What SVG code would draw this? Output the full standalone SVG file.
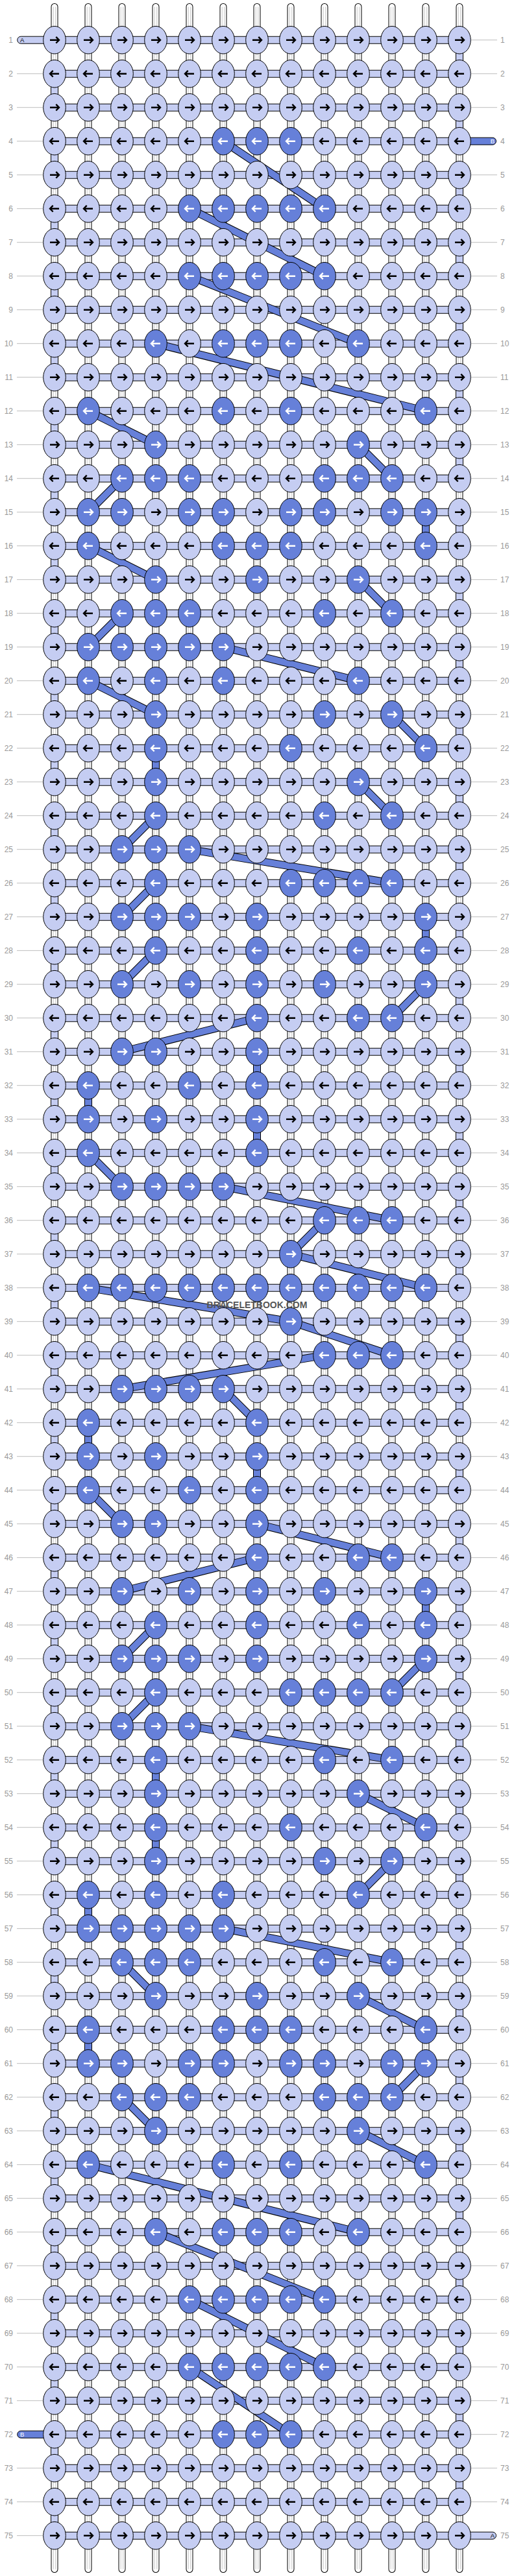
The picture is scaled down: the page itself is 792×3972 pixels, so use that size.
<svg xmlns="http://www.w3.org/2000/svg" width="792" height="3972" viewBox="0 0 792 3972">
<style>
.nl{fill:#c5cdf2;stroke:#000;stroke-width:1}
.nd{fill:#6680d9;stroke:#000;stroke-width:1}
.ab{fill:none;stroke:#000;stroke-width:2.4}
.aw{fill:none;stroke:#fff;stroke-width:2.4}
.vo{fill:none;stroke:#000;stroke-width:11;stroke-linecap:round}
.vi{fill:none;stroke:#fff;stroke-width:9;stroke-linecap:round}
.vg{fill:none;stroke:#c4c4c4;stroke-width:1}
.ho{fill:none;stroke:#000;stroke-width:12}
.hi{fill:none;stroke:#c5cdf2;stroke-width:10}
.to{fill:none;stroke:#000;stroke-width:12;stroke-dasharray:52 52}
.ti{fill:none;stroke:#c5cdf2;stroke-width:10;stroke-dasharray:52 52}
.bo{fill:none;stroke:#000;stroke-width:12}
.bi{fill:none;stroke:#6680d9;stroke-width:10}
.gl{fill:none;stroke:#bdbdbd;stroke-width:1}
.tbl{fill:#c5cdf2;stroke:#000;stroke-width:1}
.tbd{fill:#6680d9;stroke:#000;stroke-width:1}
.tt{font-family:"Liberation Sans",Arial,sans-serif;font-size:9.5px}
.ll{font-family:"Liberation Sans",Arial,sans-serif;font-size:12px;fill:#999;text-anchor:end}
.lr{font-family:"Liberation Sans",Arial,sans-serif;font-size:12px;fill:#999}
.wm{font-family:"Liberation Sans",Arial,sans-serif;font-size:14px;font-weight:bold;fill:#555;text-anchor:middle}
</style>
<defs>
<path id="vs" d="M84 10.5V3961.5M136 10.5V3961.5M188 10.5V3961.5M240 10.5V3961.5M292 10.5V3961.5M344 10.5V3961.5M396 10.5V3961.5M448 10.5V3961.5M500 10.5V3961.5M552 10.5V3961.5M604 10.5V3961.5M656 10.5V3961.5M708 10.5V3961.5"/>
<path id="hs" d="M84 61.7h624M84 113.7h624M84 165.7h624M84 217.7h624M84 269.7h624M84 321.7h624M84 373.7h624M84 425.7h624M84 477.7h624M84 529.7h624M84 581.7h624M84 633.7h624M84 685.7h624M84 737.7h624M84 789.7h624M84 841.7h624M84 893.7h624M84 945.7h624M84 997.7h624M84 1049.7h624M84 1101.7h624M84 1153.7h624M84 1205.7h624M84 1257.7h624M84 1309.7h624M84 1361.7h624M84 1413.7h624M84 1465.7h624M84 1517.7h624M84 1569.7h624M84 1621.7h624M84 1673.7h624M84 1725.7h624M84 1777.7h624M84 1829.7h624M84 1881.7h624M84 1933.7h624M84 1985.7h624M84 2037.7h624M84 2089.7h624M84 2141.7h624M84 2193.7h624M84 2245.7h624M84 2297.7h624M84 2349.7h624M84 2401.7h624M84 2453.7h624M84 2505.7h624M84 2557.7h624M84 2609.7h624M84 2661.7h624M84 2713.7h624M84 2765.7h624M84 2817.7h624M84 2869.7h624M84 2921.7h624M84 2973.7h624M84 3025.7h624M84 3077.7h624M84 3129.7h624M84 3181.7h624M84 3233.7h624M84 3285.7h624M84 3337.7h624M84 3389.7h624M84 3441.7h624M84 3493.7h624M84 3545.7h624M84 3597.7h624M84 3649.7h624M84 3701.7h624M84 3753.7h624M84 3805.7h624M84 3857.7h624M84 3909.7h624"/>
<path id="bd" d="M344 217.7L500 321.7M292 321.7L500 425.7M292 425.7L552 529.7M240 529.7L656 633.7M136 633.7L240 685.7M552 685.7L604 737.7M188 737.7L136 789.7M656 789.7L656 841.7M136 841.7L240 893.7M552 893.7L604 945.7M188 945.7L136 997.7M344 997.7L552 1049.7M136 1049.7L240 1101.7M604 1101.7L656 1153.7M240 1153.7L240 1205.7M552 1205.7L604 1257.7M240 1257.7L188 1309.7M292 1309.7L604 1361.7M240 1361.7L188 1413.7M656 1413.7L656 1465.7M240 1465.7L188 1517.7M656 1517.7L604 1569.7M396 1569.7L188 1621.7M396 1621.7L396 1673.7M136 1673.7L136 1725.7M396 1725.7L396 1777.7M136 1777.7L188 1829.7M344 1829.7L604 1881.7M500 1881.7L448 1933.7M448 1933.7L656 1985.7M136 1985.7L448 2037.7M448 2037.7L604 2089.7M500 2089.7L188 2141.7M344 2141.7L396 2193.7M136 2193.7L136 2245.7M396 2245.7L396 2297.7M136 2297.7L188 2349.7M396 2349.7L604 2401.7M396 2401.7L188 2453.7M656 2453.7L656 2505.7M240 2505.7L188 2557.7M656 2557.7L604 2609.7M240 2609.7L188 2661.7M292 2661.7L604 2713.7M240 2713.7L240 2765.7M552 2765.7L656 2817.7M240 2817.7L240 2869.7M604 2869.7L552 2921.7M136 2921.7L136 2973.7M344 2973.7L604 3025.7M188 3025.7L240 3077.7M552 3077.7L656 3129.7M136 3129.7L136 3181.7M656 3181.7L604 3233.7M188 3233.7L240 3285.7M552 3285.7L656 3337.7M136 3337.7L552 3441.7M240 3441.7L500 3545.7M292 3545.7L500 3649.7M292 3649.7L448 3753.7"/>
<g id="a"><ellipse rx="17.3" ry="21.3" class="nl"/><path d="M-7 0H6M2.3-4.8 7 0 2.3 4.8" class="ab"/></g>
<g id="b"><ellipse rx="17.3" ry="21.3" class="nl"/><path d="M7 0H-6M-2.3-4.8-7 0-2.3 4.8" class="ab"/></g>
<g id="c"><ellipse rx="17.3" ry="21.3" class="nd"/><path d="M-7 0H6M2.3-4.8 7 0 2.3 4.8" class="aw"/></g>
<g id="d"><ellipse rx="17.3" ry="21.3" class="nd"/><path d="M7 0H-6M-2.3-4.8-7 0-2.3 4.8" class="aw"/></g>
</defs>
<rect width="792" height="3972" fill="#fff"/>
<g id="guides">
<path class="gl" d="M26 113.7h40M26 165.7h40M26 217.7h40M26 269.7h40M26 321.7h40M26 373.7h40M26 425.7h40M26 477.7h40M26 529.7h40M26 581.7h40M26 633.7h40M26 685.7h40M26 737.7h40M26 789.7h40M26 841.7h40M26 893.7h40M26 945.7h40M26 997.7h40M26 1049.7h40M26 1101.7h40M26 1153.7h40M26 1205.7h40M26 1257.7h40M26 1309.7h40M26 1361.7h40M26 1413.7h40M26 1465.7h40M26 1517.7h40M26 1569.7h40M26 1621.7h40M26 1673.7h40M26 1725.7h40M26 1777.7h40M26 1829.7h40M26 1881.7h40M26 1933.7h40M26 1985.7h40M26 2037.7h40M26 2089.7h40M26 2141.7h40M26 2193.7h40M26 2245.7h40M26 2297.7h40M26 2349.7h40M26 2401.7h40M26 2453.7h40M26 2505.7h40M26 2557.7h40M26 2609.7h40M26 2661.7h40M26 2713.7h40M26 2765.7h40M26 2817.7h40M26 2869.7h40M26 2921.7h40M26 2973.7h40M26 3025.7h40M26 3077.7h40M26 3129.7h40M26 3181.7h40M26 3233.7h40M26 3285.7h40M26 3337.7h40M26 3389.7h40M26 3441.7h40M26 3493.7h40M26 3545.7h40M26 3597.7h40M26 3649.7h40M26 3701.7h40M26 3805.7h40M26 3857.7h40M26 3909.7h40"/>
<path class="gl" d="M726 61.7h40M726 113.7h40M726 165.7h40M726 269.7h40M726 321.7h40M726 373.7h40M726 425.7h40M726 477.7h40M726 529.7h40M726 581.7h40M726 633.7h40M726 685.7h40M726 737.7h40M726 789.7h40M726 841.7h40M726 893.7h40M726 945.7h40M726 997.7h40M726 1049.7h40M726 1101.7h40M726 1153.7h40M726 1205.7h40M726 1257.7h40M726 1309.7h40M726 1361.7h40M726 1413.7h40M726 1465.7h40M726 1517.7h40M726 1569.7h40M726 1621.7h40M726 1673.7h40M726 1725.7h40M726 1777.7h40M726 1829.7h40M726 1881.7h40M726 1933.7h40M726 1985.7h40M726 2037.7h40M726 2089.7h40M726 2141.7h40M726 2193.7h40M726 2245.7h40M726 2297.7h40M726 2349.7h40M726 2401.7h40M726 2453.7h40M726 2505.7h40M726 2557.7h40M726 2609.7h40M726 2661.7h40M726 2713.7h40M726 2765.7h40M726 2817.7h40M726 2869.7h40M726 2921.7h40M726 2973.7h40M726 3025.7h40M726 3077.7h40M726 3129.7h40M726 3181.7h40M726 3233.7h40M726 3285.7h40M726 3337.7h40M726 3389.7h40M726 3441.7h40M726 3493.7h40M726 3545.7h40M726 3597.7h40M726 3649.7h40M726 3701.7h40M726 3753.7h40M726 3805.7h40M726 3857.7h40"/>
</g>
<g id="labels">
<text class="ll" x="20" y="66">1</text><text class="lr" x="771" y="66">1</text>
<text class="ll" x="20" y="118">2</text><text class="lr" x="771" y="118">2</text>
<text class="ll" x="20" y="170">3</text><text class="lr" x="771" y="170">3</text>
<text class="ll" x="20" y="222">4</text><text class="lr" x="771" y="222">4</text>
<text class="ll" x="20" y="274">5</text><text class="lr" x="771" y="274">5</text>
<text class="ll" x="20" y="326">6</text><text class="lr" x="771" y="326">6</text>
<text class="ll" x="20" y="378">7</text><text class="lr" x="771" y="378">7</text>
<text class="ll" x="20" y="430">8</text><text class="lr" x="771" y="430">8</text>
<text class="ll" x="20" y="482">9</text><text class="lr" x="771" y="482">9</text>
<text class="ll" x="20" y="534">10</text><text class="lr" x="771" y="534">10</text>
<text class="ll" x="20" y="586">11</text><text class="lr" x="771" y="586">11</text>
<text class="ll" x="20" y="638">12</text><text class="lr" x="771" y="638">12</text>
<text class="ll" x="20" y="690">13</text><text class="lr" x="771" y="690">13</text>
<text class="ll" x="20" y="742">14</text><text class="lr" x="771" y="742">14</text>
<text class="ll" x="20" y="794">15</text><text class="lr" x="771" y="794">15</text>
<text class="ll" x="20" y="846">16</text><text class="lr" x="771" y="846">16</text>
<text class="ll" x="20" y="898">17</text><text class="lr" x="771" y="898">17</text>
<text class="ll" x="20" y="950">18</text><text class="lr" x="771" y="950">18</text>
<text class="ll" x="20" y="1002">19</text><text class="lr" x="771" y="1002">19</text>
<text class="ll" x="20" y="1054">20</text><text class="lr" x="771" y="1054">20</text>
<text class="ll" x="20" y="1106">21</text><text class="lr" x="771" y="1106">21</text>
<text class="ll" x="20" y="1158">22</text><text class="lr" x="771" y="1158">22</text>
<text class="ll" x="20" y="1210">23</text><text class="lr" x="771" y="1210">23</text>
<text class="ll" x="20" y="1262">24</text><text class="lr" x="771" y="1262">24</text>
<text class="ll" x="20" y="1314">25</text><text class="lr" x="771" y="1314">25</text>
<text class="ll" x="20" y="1366">26</text><text class="lr" x="771" y="1366">26</text>
<text class="ll" x="20" y="1418">27</text><text class="lr" x="771" y="1418">27</text>
<text class="ll" x="20" y="1470">28</text><text class="lr" x="771" y="1470">28</text>
<text class="ll" x="20" y="1522">29</text><text class="lr" x="771" y="1522">29</text>
<text class="ll" x="20" y="1574">30</text><text class="lr" x="771" y="1574">30</text>
<text class="ll" x="20" y="1626">31</text><text class="lr" x="771" y="1626">31</text>
<text class="ll" x="20" y="1678">32</text><text class="lr" x="771" y="1678">32</text>
<text class="ll" x="20" y="1730">33</text><text class="lr" x="771" y="1730">33</text>
<text class="ll" x="20" y="1782">34</text><text class="lr" x="771" y="1782">34</text>
<text class="ll" x="20" y="1834">35</text><text class="lr" x="771" y="1834">35</text>
<text class="ll" x="20" y="1886">36</text><text class="lr" x="771" y="1886">36</text>
<text class="ll" x="20" y="1938">37</text><text class="lr" x="771" y="1938">37</text>
<text class="ll" x="20" y="1990">38</text><text class="lr" x="771" y="1990">38</text>
<text class="ll" x="20" y="2042">39</text><text class="lr" x="771" y="2042">39</text>
<text class="ll" x="20" y="2094">40</text><text class="lr" x="771" y="2094">40</text>
<text class="ll" x="20" y="2146">41</text><text class="lr" x="771" y="2146">41</text>
<text class="ll" x="20" y="2198">42</text><text class="lr" x="771" y="2198">42</text>
<text class="ll" x="20" y="2250">43</text><text class="lr" x="771" y="2250">43</text>
<text class="ll" x="20" y="2302">44</text><text class="lr" x="771" y="2302">44</text>
<text class="ll" x="20" y="2354">45</text><text class="lr" x="771" y="2354">45</text>
<text class="ll" x="20" y="2406">46</text><text class="lr" x="771" y="2406">46</text>
<text class="ll" x="20" y="2458">47</text><text class="lr" x="771" y="2458">47</text>
<text class="ll" x="20" y="2510">48</text><text class="lr" x="771" y="2510">48</text>
<text class="ll" x="20" y="2562">49</text><text class="lr" x="771" y="2562">49</text>
<text class="ll" x="20" y="2614">50</text><text class="lr" x="771" y="2614">50</text>
<text class="ll" x="20" y="2666">51</text><text class="lr" x="771" y="2666">51</text>
<text class="ll" x="20" y="2718">52</text><text class="lr" x="771" y="2718">52</text>
<text class="ll" x="20" y="2770">53</text><text class="lr" x="771" y="2770">53</text>
<text class="ll" x="20" y="2822">54</text><text class="lr" x="771" y="2822">54</text>
<text class="ll" x="20" y="2874">55</text><text class="lr" x="771" y="2874">55</text>
<text class="ll" x="20" y="2926">56</text><text class="lr" x="771" y="2926">56</text>
<text class="ll" x="20" y="2978">57</text><text class="lr" x="771" y="2978">57</text>
<text class="ll" x="20" y="3030">58</text><text class="lr" x="771" y="3030">58</text>
<text class="ll" x="20" y="3082">59</text><text class="lr" x="771" y="3082">59</text>
<text class="ll" x="20" y="3134">60</text><text class="lr" x="771" y="3134">60</text>
<text class="ll" x="20" y="3186">61</text><text class="lr" x="771" y="3186">61</text>
<text class="ll" x="20" y="3238">62</text><text class="lr" x="771" y="3238">62</text>
<text class="ll" x="20" y="3290">63</text><text class="lr" x="771" y="3290">63</text>
<text class="ll" x="20" y="3342">64</text><text class="lr" x="771" y="3342">64</text>
<text class="ll" x="20" y="3394">65</text><text class="lr" x="771" y="3394">65</text>
<text class="ll" x="20" y="3446">66</text><text class="lr" x="771" y="3446">66</text>
<text class="ll" x="20" y="3498">67</text><text class="lr" x="771" y="3498">67</text>
<text class="ll" x="20" y="3550">68</text><text class="lr" x="771" y="3550">68</text>
<text class="ll" x="20" y="3602">69</text><text class="lr" x="771" y="3602">69</text>
<text class="ll" x="20" y="3654">70</text><text class="lr" x="771" y="3654">70</text>
<text class="ll" x="20" y="3706">71</text><text class="lr" x="771" y="3706">71</text>
<text class="ll" x="20" y="3758">72</text><text class="lr" x="771" y="3758">72</text>
<text class="ll" x="20" y="3810">73</text><text class="lr" x="771" y="3810">73</text>
<text class="ll" x="20" y="3862">74</text><text class="lr" x="771" y="3862">74</text>
<text class="ll" x="20" y="3914">75</text><text class="lr" x="771" y="3914">75</text>
</g>
<g id="connectors">
<use href="#vs" class="vo"/>
<use href="#vs" class="vi"/>
<use href="#vs" class="vg" transform="translate(-1.8,0)"/>
<use href="#vs" class="vg" transform="translate(1.8,0)"/>
<use href="#hs" class="ho"/>
<use href="#hs" class="hi"/>
<line class="to" x1="708" y1="61.7" x2="708" y2="3857.7"/>
<line class="ti" x1="708" y1="61.7" x2="708" y2="3857.7"/>
<line class="to" x1="84" y1="113.7" x2="84" y2="3909.7"/>
<line class="ti" x1="84" y1="113.7" x2="84" y2="3909.7"/>
<use href="#bd" class="bo"/>
<use href="#bd" class="bi"/>
<g id="tabA-start"><path class="tbl" d="M72 56.2H32.2a5.5 5.5 0 0 0 0 11H72z"/><text class="tt" x="31" y="65.3" fill="#000">A</text></g>
<g id="tabB-start"><path class="tbd" d="M704 212.2H759a5.5 5.5 0 0 1 0 11H704z"/><text class="tt" x="762" y="221.3" fill="#fff" text-anchor="end">B</text></g>
<g id="tabB-end"><path class="tbd" d="M72 3748.2H32.2a5.5 5.5 0 0 0 0 11H72z"/><text class="tt" x="31" y="3757.3" fill="#fff">B</text></g>
<g id="tabA-end"><path class="tbl" d="M704 3904.2H759a5.5 5.5 0 0 1 0 11H704z"/><text class="tt" x="762" y="3913.3" fill="#000" text-anchor="end">A</text></g>
</g>
<g id="nodes">
<g id="row1" transform="translate(0,61.7)"><use id="n1_1" href="#a" x="84"/><use id="n1_2" href="#a" x="136"/><use id="n1_3" href="#a" x="188"/><use id="n1_4" href="#a" x="240"/><use id="n1_5" href="#a" x="292"/><use id="n1_6" href="#a" x="344"/><use id="n1_7" href="#a" x="396"/><use id="n1_8" href="#a" x="448"/><use id="n1_9" href="#a" x="500"/><use id="n1_10" href="#a" x="552"/><use id="n1_11" href="#a" x="604"/><use id="n1_12" href="#a" x="656"/><use id="n1_13" href="#a" x="708"/></g>
<g id="row2" transform="translate(0,113.7)"><use id="n2_1" href="#b" x="84"/><use id="n2_2" href="#b" x="136"/><use id="n2_3" href="#b" x="188"/><use id="n2_4" href="#b" x="240"/><use id="n2_5" href="#b" x="292"/><use id="n2_6" href="#b" x="344"/><use id="n2_7" href="#b" x="396"/><use id="n2_8" href="#b" x="448"/><use id="n2_9" href="#b" x="500"/><use id="n2_10" href="#b" x="552"/><use id="n2_11" href="#b" x="604"/><use id="n2_12" href="#b" x="656"/><use id="n2_13" href="#b" x="708"/></g>
<g id="row3" transform="translate(0,165.7)"><use id="n3_1" href="#a" x="84"/><use id="n3_2" href="#a" x="136"/><use id="n3_3" href="#a" x="188"/><use id="n3_4" href="#a" x="240"/><use id="n3_5" href="#a" x="292"/><use id="n3_6" href="#a" x="344"/><use id="n3_7" href="#a" x="396"/><use id="n3_8" href="#a" x="448"/><use id="n3_9" href="#a" x="500"/><use id="n3_10" href="#a" x="552"/><use id="n3_11" href="#a" x="604"/><use id="n3_12" href="#a" x="656"/><use id="n3_13" href="#a" x="708"/></g>
<g id="row4" transform="translate(0,217.7)"><use id="n4_1" href="#b" x="84"/><use id="n4_2" href="#b" x="136"/><use id="n4_3" href="#b" x="188"/><use id="n4_4" href="#b" x="240"/><use id="n4_5" href="#b" x="292"/><use id="n4_6" href="#d" x="344"/><use id="n4_7" href="#d" x="396"/><use id="n4_8" href="#d" x="448"/><use id="n4_9" href="#b" x="500"/><use id="n4_10" href="#b" x="552"/><use id="n4_11" href="#b" x="604"/><use id="n4_12" href="#b" x="656"/><use id="n4_13" href="#b" x="708"/></g>
<g id="row5" transform="translate(0,269.7)"><use id="n5_1" href="#a" x="84"/><use id="n5_2" href="#a" x="136"/><use id="n5_3" href="#a" x="188"/><use id="n5_4" href="#a" x="240"/><use id="n5_5" href="#a" x="292"/><use id="n5_6" href="#a" x="344"/><use id="n5_7" href="#a" x="396"/><use id="n5_8" href="#a" x="448"/><use id="n5_9" href="#a" x="500"/><use id="n5_10" href="#a" x="552"/><use id="n5_11" href="#a" x="604"/><use id="n5_12" href="#a" x="656"/><use id="n5_13" href="#a" x="708"/></g>
<g id="row6" transform="translate(0,321.7)"><use id="n6_1" href="#b" x="84"/><use id="n6_2" href="#b" x="136"/><use id="n6_3" href="#b" x="188"/><use id="n6_4" href="#b" x="240"/><use id="n6_5" href="#d" x="292"/><use id="n6_6" href="#d" x="344"/><use id="n6_7" href="#d" x="396"/><use id="n6_8" href="#d" x="448"/><use id="n6_9" href="#d" x="500"/><use id="n6_10" href="#b" x="552"/><use id="n6_11" href="#b" x="604"/><use id="n6_12" href="#b" x="656"/><use id="n6_13" href="#b" x="708"/></g>
<g id="row7" transform="translate(0,373.7)"><use id="n7_1" href="#a" x="84"/><use id="n7_2" href="#a" x="136"/><use id="n7_3" href="#a" x="188"/><use id="n7_4" href="#a" x="240"/><use id="n7_5" href="#a" x="292"/><use id="n7_6" href="#a" x="344"/><use id="n7_7" href="#a" x="396"/><use id="n7_8" href="#a" x="448"/><use id="n7_9" href="#a" x="500"/><use id="n7_10" href="#a" x="552"/><use id="n7_11" href="#a" x="604"/><use id="n7_12" href="#a" x="656"/><use id="n7_13" href="#a" x="708"/></g>
<g id="row8" transform="translate(0,425.7)"><use id="n8_1" href="#b" x="84"/><use id="n8_2" href="#b" x="136"/><use id="n8_3" href="#b" x="188"/><use id="n8_4" href="#b" x="240"/><use id="n8_5" href="#d" x="292"/><use id="n8_6" href="#d" x="344"/><use id="n8_7" href="#d" x="396"/><use id="n8_8" href="#d" x="448"/><use id="n8_9" href="#d" x="500"/><use id="n8_10" href="#b" x="552"/><use id="n8_11" href="#b" x="604"/><use id="n8_12" href="#b" x="656"/><use id="n8_13" href="#b" x="708"/></g>
<g id="row9" transform="translate(0,477.7)"><use id="n9_1" href="#a" x="84"/><use id="n9_2" href="#a" x="136"/><use id="n9_3" href="#a" x="188"/><use id="n9_4" href="#a" x="240"/><use id="n9_5" href="#a" x="292"/><use id="n9_6" href="#a" x="344"/><use id="n9_7" href="#a" x="396"/><use id="n9_8" href="#a" x="448"/><use id="n9_9" href="#a" x="500"/><use id="n9_10" href="#a" x="552"/><use id="n9_11" href="#a" x="604"/><use id="n9_12" href="#a" x="656"/><use id="n9_13" href="#a" x="708"/></g>
<g id="row10" transform="translate(0,529.7)"><use id="n10_1" href="#b" x="84"/><use id="n10_2" href="#b" x="136"/><use id="n10_3" href="#b" x="188"/><use id="n10_4" href="#d" x="240"/><use id="n10_5" href="#b" x="292"/><use id="n10_6" href="#d" x="344"/><use id="n10_7" href="#d" x="396"/><use id="n10_8" href="#d" x="448"/><use id="n10_9" href="#b" x="500"/><use id="n10_10" href="#d" x="552"/><use id="n10_11" href="#b" x="604"/><use id="n10_12" href="#b" x="656"/><use id="n10_13" href="#b" x="708"/></g>
<g id="row11" transform="translate(0,581.7)"><use id="n11_1" href="#a" x="84"/><use id="n11_2" href="#a" x="136"/><use id="n11_3" href="#a" x="188"/><use id="n11_4" href="#a" x="240"/><use id="n11_5" href="#a" x="292"/><use id="n11_6" href="#a" x="344"/><use id="n11_7" href="#a" x="396"/><use id="n11_8" href="#a" x="448"/><use id="n11_9" href="#a" x="500"/><use id="n11_10" href="#a" x="552"/><use id="n11_11" href="#a" x="604"/><use id="n11_12" href="#a" x="656"/><use id="n11_13" href="#a" x="708"/></g>
<g id="row12" transform="translate(0,633.7)"><use id="n12_1" href="#b" x="84"/><use id="n12_2" href="#d" x="136"/><use id="n12_3" href="#b" x="188"/><use id="n12_4" href="#b" x="240"/><use id="n12_5" href="#b" x="292"/><use id="n12_6" href="#d" x="344"/><use id="n12_7" href="#b" x="396"/><use id="n12_8" href="#d" x="448"/><use id="n12_9" href="#b" x="500"/><use id="n12_10" href="#b" x="552"/><use id="n12_11" href="#b" x="604"/><use id="n12_12" href="#d" x="656"/><use id="n12_13" href="#b" x="708"/></g>
<g id="row13" transform="translate(0,685.7)"><use id="n13_1" href="#a" x="84"/><use id="n13_2" href="#a" x="136"/><use id="n13_3" href="#a" x="188"/><use id="n13_4" href="#c" x="240"/><use id="n13_5" href="#a" x="292"/><use id="n13_6" href="#a" x="344"/><use id="n13_7" href="#a" x="396"/><use id="n13_8" href="#a" x="448"/><use id="n13_9" href="#a" x="500"/><use id="n13_10" href="#c" x="552"/><use id="n13_11" href="#a" x="604"/><use id="n13_12" href="#a" x="656"/><use id="n13_13" href="#a" x="708"/></g>
<g id="row14" transform="translate(0,737.7)"><use id="n14_1" href="#b" x="84"/><use id="n14_2" href="#b" x="136"/><use id="n14_3" href="#d" x="188"/><use id="n14_4" href="#d" x="240"/><use id="n14_5" href="#d" x="292"/><use id="n14_6" href="#b" x="344"/><use id="n14_7" href="#b" x="396"/><use id="n14_8" href="#b" x="448"/><use id="n14_9" href="#d" x="500"/><use id="n14_10" href="#d" x="552"/><use id="n14_11" href="#d" x="604"/><use id="n14_12" href="#b" x="656"/><use id="n14_13" href="#b" x="708"/></g>
<g id="row15" transform="translate(0,789.7)"><use id="n15_1" href="#a" x="84"/><use id="n15_2" href="#c" x="136"/><use id="n15_3" href="#c" x="188"/><use id="n15_4" href="#a" x="240"/><use id="n15_5" href="#c" x="292"/><use id="n15_6" href="#c" x="344"/><use id="n15_7" href="#a" x="396"/><use id="n15_8" href="#c" x="448"/><use id="n15_9" href="#c" x="500"/><use id="n15_10" href="#a" x="552"/><use id="n15_11" href="#c" x="604"/><use id="n15_12" href="#c" x="656"/><use id="n15_13" href="#a" x="708"/></g>
<g id="row16" transform="translate(0,841.7)"><use id="n16_1" href="#b" x="84"/><use id="n16_2" href="#d" x="136"/><use id="n16_3" href="#b" x="188"/><use id="n16_4" href="#b" x="240"/><use id="n16_5" href="#b" x="292"/><use id="n16_6" href="#d" x="344"/><use id="n16_7" href="#d" x="396"/><use id="n16_8" href="#d" x="448"/><use id="n16_9" href="#b" x="500"/><use id="n16_10" href="#b" x="552"/><use id="n16_11" href="#b" x="604"/><use id="n16_12" href="#d" x="656"/><use id="n16_13" href="#b" x="708"/></g>
<g id="row17" transform="translate(0,893.7)"><use id="n17_1" href="#a" x="84"/><use id="n17_2" href="#a" x="136"/><use id="n17_3" href="#a" x="188"/><use id="n17_4" href="#c" x="240"/><use id="n17_5" href="#a" x="292"/><use id="n17_6" href="#a" x="344"/><use id="n17_7" href="#c" x="396"/><use id="n17_8" href="#a" x="448"/><use id="n17_9" href="#a" x="500"/><use id="n17_10" href="#c" x="552"/><use id="n17_11" href="#a" x="604"/><use id="n17_12" href="#a" x="656"/><use id="n17_13" href="#a" x="708"/></g>
<g id="row18" transform="translate(0,945.7)"><use id="n18_1" href="#b" x="84"/><use id="n18_2" href="#b" x="136"/><use id="n18_3" href="#d" x="188"/><use id="n18_4" href="#d" x="240"/><use id="n18_5" href="#d" x="292"/><use id="n18_6" href="#b" x="344"/><use id="n18_7" href="#b" x="396"/><use id="n18_8" href="#b" x="448"/><use id="n18_9" href="#d" x="500"/><use id="n18_10" href="#b" x="552"/><use id="n18_11" href="#d" x="604"/><use id="n18_12" href="#b" x="656"/><use id="n18_13" href="#b" x="708"/></g>
<g id="row19" transform="translate(0,997.7)"><use id="n19_1" href="#a" x="84"/><use id="n19_2" href="#c" x="136"/><use id="n19_3" href="#c" x="188"/><use id="n19_4" href="#c" x="240"/><use id="n19_5" href="#c" x="292"/><use id="n19_6" href="#c" x="344"/><use id="n19_7" href="#a" x="396"/><use id="n19_8" href="#a" x="448"/><use id="n19_9" href="#a" x="500"/><use id="n19_10" href="#a" x="552"/><use id="n19_11" href="#a" x="604"/><use id="n19_12" href="#a" x="656"/><use id="n19_13" href="#a" x="708"/></g>
<g id="row20" transform="translate(0,1049.7)"><use id="n20_1" href="#b" x="84"/><use id="n20_2" href="#d" x="136"/><use id="n20_3" href="#b" x="188"/><use id="n20_4" href="#d" x="240"/><use id="n20_5" href="#b" x="292"/><use id="n20_6" href="#d" x="344"/><use id="n20_7" href="#b" x="396"/><use id="n20_8" href="#b" x="448"/><use id="n20_9" href="#b" x="500"/><use id="n20_10" href="#d" x="552"/><use id="n20_11" href="#b" x="604"/><use id="n20_12" href="#b" x="656"/><use id="n20_13" href="#b" x="708"/></g>
<g id="row21" transform="translate(0,1101.7)"><use id="n21_1" href="#a" x="84"/><use id="n21_2" href="#a" x="136"/><use id="n21_3" href="#a" x="188"/><use id="n21_4" href="#c" x="240"/><use id="n21_5" href="#a" x="292"/><use id="n21_6" href="#a" x="344"/><use id="n21_7" href="#a" x="396"/><use id="n21_8" href="#a" x="448"/><use id="n21_9" href="#c" x="500"/><use id="n21_10" href="#a" x="552"/><use id="n21_11" href="#c" x="604"/><use id="n21_12" href="#a" x="656"/><use id="n21_13" href="#a" x="708"/></g>
<g id="row22" transform="translate(0,1153.7)"><use id="n22_1" href="#b" x="84"/><use id="n22_2" href="#b" x="136"/><use id="n22_3" href="#b" x="188"/><use id="n22_4" href="#d" x="240"/><use id="n22_5" href="#b" x="292"/><use id="n22_6" href="#b" x="344"/><use id="n22_7" href="#b" x="396"/><use id="n22_8" href="#d" x="448"/><use id="n22_9" href="#b" x="500"/><use id="n22_10" href="#b" x="552"/><use id="n22_11" href="#b" x="604"/><use id="n22_12" href="#d" x="656"/><use id="n22_13" href="#b" x="708"/></g>
<g id="row23" transform="translate(0,1205.7)"><use id="n23_1" href="#a" x="84"/><use id="n23_2" href="#a" x="136"/><use id="n23_3" href="#a" x="188"/><use id="n23_4" href="#c" x="240"/><use id="n23_5" href="#a" x="292"/><use id="n23_6" href="#a" x="344"/><use id="n23_7" href="#a" x="396"/><use id="n23_8" href="#a" x="448"/><use id="n23_9" href="#a" x="500"/><use id="n23_10" href="#c" x="552"/><use id="n23_11" href="#a" x="604"/><use id="n23_12" href="#a" x="656"/><use id="n23_13" href="#a" x="708"/></g>
<g id="row24" transform="translate(0,1257.7)"><use id="n24_1" href="#b" x="84"/><use id="n24_2" href="#b" x="136"/><use id="n24_3" href="#b" x="188"/><use id="n24_4" href="#d" x="240"/><use id="n24_5" href="#b" x="292"/><use id="n24_6" href="#b" x="344"/><use id="n24_7" href="#b" x="396"/><use id="n24_8" href="#b" x="448"/><use id="n24_9" href="#d" x="500"/><use id="n24_10" href="#b" x="552"/><use id="n24_11" href="#d" x="604"/><use id="n24_12" href="#b" x="656"/><use id="n24_13" href="#b" x="708"/></g>
<g id="row25" transform="translate(0,1309.7)"><use id="n25_1" href="#a" x="84"/><use id="n25_2" href="#a" x="136"/><use id="n25_3" href="#c" x="188"/><use id="n25_4" href="#c" x="240"/><use id="n25_5" href="#c" x="292"/><use id="n25_6" href="#a" x="344"/><use id="n25_7" href="#a" x="396"/><use id="n25_8" href="#a" x="448"/><use id="n25_9" href="#a" x="500"/><use id="n25_10" href="#a" x="552"/><use id="n25_11" href="#a" x="604"/><use id="n25_12" href="#a" x="656"/><use id="n25_13" href="#a" x="708"/></g>
<g id="row26" transform="translate(0,1361.7)"><use id="n26_1" href="#b" x="84"/><use id="n26_2" href="#b" x="136"/><use id="n26_3" href="#b" x="188"/><use id="n26_4" href="#d" x="240"/><use id="n26_5" href="#b" x="292"/><use id="n26_6" href="#b" x="344"/><use id="n26_7" href="#b" x="396"/><use id="n26_8" href="#d" x="448"/><use id="n26_9" href="#d" x="500"/><use id="n26_10" href="#d" x="552"/><use id="n26_11" href="#d" x="604"/><use id="n26_12" href="#b" x="656"/><use id="n26_13" href="#b" x="708"/></g>
<g id="row27" transform="translate(0,1413.7)"><use id="n27_1" href="#a" x="84"/><use id="n27_2" href="#a" x="136"/><use id="n27_3" href="#c" x="188"/><use id="n27_4" href="#c" x="240"/><use id="n27_5" href="#c" x="292"/><use id="n27_6" href="#a" x="344"/><use id="n27_7" href="#c" x="396"/><use id="n27_8" href="#a" x="448"/><use id="n27_9" href="#a" x="500"/><use id="n27_10" href="#a" x="552"/><use id="n27_11" href="#a" x="604"/><use id="n27_12" href="#c" x="656"/><use id="n27_13" href="#a" x="708"/></g>
<g id="row28" transform="translate(0,1465.7)"><use id="n28_1" href="#b" x="84"/><use id="n28_2" href="#b" x="136"/><use id="n28_3" href="#b" x="188"/><use id="n28_4" href="#d" x="240"/><use id="n28_5" href="#b" x="292"/><use id="n28_6" href="#b" x="344"/><use id="n28_7" href="#d" x="396"/><use id="n28_8" href="#b" x="448"/><use id="n28_9" href="#b" x="500"/><use id="n28_10" href="#d" x="552"/><use id="n28_11" href="#b" x="604"/><use id="n28_12" href="#d" x="656"/><use id="n28_13" href="#b" x="708"/></g>
<g id="row29" transform="translate(0,1517.7)"><use id="n29_1" href="#a" x="84"/><use id="n29_2" href="#a" x="136"/><use id="n29_3" href="#c" x="188"/><use id="n29_4" href="#a" x="240"/><use id="n29_5" href="#c" x="292"/><use id="n29_6" href="#a" x="344"/><use id="n29_7" href="#c" x="396"/><use id="n29_8" href="#a" x="448"/><use id="n29_9" href="#c" x="500"/><use id="n29_10" href="#a" x="552"/><use id="n29_11" href="#a" x="604"/><use id="n29_12" href="#c" x="656"/><use id="n29_13" href="#a" x="708"/></g>
<g id="row30" transform="translate(0,1569.7)"><use id="n30_1" href="#b" x="84"/><use id="n30_2" href="#b" x="136"/><use id="n30_3" href="#b" x="188"/><use id="n30_4" href="#b" x="240"/><use id="n30_5" href="#b" x="292"/><use id="n30_6" href="#b" x="344"/><use id="n30_7" href="#d" x="396"/><use id="n30_8" href="#b" x="448"/><use id="n30_9" href="#b" x="500"/><use id="n30_10" href="#d" x="552"/><use id="n30_11" href="#d" x="604"/><use id="n30_12" href="#b" x="656"/><use id="n30_13" href="#b" x="708"/></g>
<g id="row31" transform="translate(0,1621.7)"><use id="n31_1" href="#a" x="84"/><use id="n31_2" href="#a" x="136"/><use id="n31_3" href="#c" x="188"/><use id="n31_4" href="#c" x="240"/><use id="n31_5" href="#a" x="292"/><use id="n31_6" href="#a" x="344"/><use id="n31_7" href="#c" x="396"/><use id="n31_8" href="#a" x="448"/><use id="n31_9" href="#a" x="500"/><use id="n31_10" href="#a" x="552"/><use id="n31_11" href="#a" x="604"/><use id="n31_12" href="#a" x="656"/><use id="n31_13" href="#a" x="708"/></g>
<g id="row32" transform="translate(0,1673.7)"><use id="n32_1" href="#b" x="84"/><use id="n32_2" href="#d" x="136"/><use id="n32_3" href="#b" x="188"/><use id="n32_4" href="#b" x="240"/><use id="n32_5" href="#d" x="292"/><use id="n32_6" href="#b" x="344"/><use id="n32_7" href="#d" x="396"/><use id="n32_8" href="#b" x="448"/><use id="n32_9" href="#b" x="500"/><use id="n32_10" href="#b" x="552"/><use id="n32_11" href="#b" x="604"/><use id="n32_12" href="#b" x="656"/><use id="n32_13" href="#b" x="708"/></g>
<g id="row33" transform="translate(0,1725.7)"><use id="n33_1" href="#a" x="84"/><use id="n33_2" href="#c" x="136"/><use id="n33_3" href="#a" x="188"/><use id="n33_4" href="#c" x="240"/><use id="n33_5" href="#a" x="292"/><use id="n33_6" href="#a" x="344"/><use id="n33_7" href="#c" x="396"/><use id="n33_8" href="#a" x="448"/><use id="n33_9" href="#a" x="500"/><use id="n33_10" href="#a" x="552"/><use id="n33_11" href="#a" x="604"/><use id="n33_12" href="#a" x="656"/><use id="n33_13" href="#a" x="708"/></g>
<g id="row34" transform="translate(0,1777.7)"><use id="n34_1" href="#b" x="84"/><use id="n34_2" href="#d" x="136"/><use id="n34_3" href="#b" x="188"/><use id="n34_4" href="#b" x="240"/><use id="n34_5" href="#b" x="292"/><use id="n34_6" href="#b" x="344"/><use id="n34_7" href="#d" x="396"/><use id="n34_8" href="#b" x="448"/><use id="n34_9" href="#b" x="500"/><use id="n34_10" href="#b" x="552"/><use id="n34_11" href="#b" x="604"/><use id="n34_12" href="#b" x="656"/><use id="n34_13" href="#b" x="708"/></g>
<g id="row35" transform="translate(0,1829.7)"><use id="n35_1" href="#a" x="84"/><use id="n35_2" href="#a" x="136"/><use id="n35_3" href="#c" x="188"/><use id="n35_4" href="#c" x="240"/><use id="n35_5" href="#c" x="292"/><use id="n35_6" href="#c" x="344"/><use id="n35_7" href="#a" x="396"/><use id="n35_8" href="#a" x="448"/><use id="n35_9" href="#a" x="500"/><use id="n35_10" href="#a" x="552"/><use id="n35_11" href="#a" x="604"/><use id="n35_12" href="#a" x="656"/><use id="n35_13" href="#a" x="708"/></g>
<g id="row36" transform="translate(0,1881.7)"><use id="n36_1" href="#b" x="84"/><use id="n36_2" href="#b" x="136"/><use id="n36_3" href="#b" x="188"/><use id="n36_4" href="#b" x="240"/><use id="n36_5" href="#b" x="292"/><use id="n36_6" href="#b" x="344"/><use id="n36_7" href="#b" x="396"/><use id="n36_8" href="#b" x="448"/><use id="n36_9" href="#d" x="500"/><use id="n36_10" href="#d" x="552"/><use id="n36_11" href="#d" x="604"/><use id="n36_12" href="#b" x="656"/><use id="n36_13" href="#b" x="708"/></g>
<g id="row37" transform="translate(0,1933.7)"><use id="n37_1" href="#a" x="84"/><use id="n37_2" href="#a" x="136"/><use id="n37_3" href="#a" x="188"/><use id="n37_4" href="#a" x="240"/><use id="n37_5" href="#a" x="292"/><use id="n37_6" href="#a" x="344"/><use id="n37_7" href="#a" x="396"/><use id="n37_8" href="#c" x="448"/><use id="n37_9" href="#a" x="500"/><use id="n37_10" href="#a" x="552"/><use id="n37_11" href="#a" x="604"/><use id="n37_12" href="#a" x="656"/><use id="n37_13" href="#a" x="708"/></g>
<g id="row38" transform="translate(0,1985.7)"><use id="n38_1" href="#b" x="84"/><use id="n38_2" href="#d" x="136"/><use id="n38_3" href="#d" x="188"/><use id="n38_4" href="#d" x="240"/><use id="n38_5" href="#d" x="292"/><use id="n38_6" href="#d" x="344"/><use id="n38_7" href="#d" x="396"/><use id="n38_8" href="#d" x="448"/><use id="n38_9" href="#d" x="500"/><use id="n38_10" href="#d" x="552"/><use id="n38_11" href="#d" x="604"/><use id="n38_12" href="#d" x="656"/><use id="n38_13" href="#b" x="708"/></g>
<g id="row39" transform="translate(0,2037.7)"><use id="n39_1" href="#a" x="84"/><use id="n39_2" href="#a" x="136"/><use id="n39_3" href="#a" x="188"/><use id="n39_4" href="#a" x="240"/><use id="n39_5" href="#a" x="292"/><use id="n39_6" href="#a" x="344"/><use id="n39_7" href="#a" x="396"/><use id="n39_8" href="#c" x="448"/><use id="n39_9" href="#a" x="500"/><use id="n39_10" href="#a" x="552"/><use id="n39_11" href="#a" x="604"/><use id="n39_12" href="#a" x="656"/><use id="n39_13" href="#a" x="708"/></g>
<g id="row40" transform="translate(0,2089.7)"><use id="n40_1" href="#b" x="84"/><use id="n40_2" href="#b" x="136"/><use id="n40_3" href="#b" x="188"/><use id="n40_4" href="#b" x="240"/><use id="n40_5" href="#b" x="292"/><use id="n40_6" href="#b" x="344"/><use id="n40_7" href="#b" x="396"/><use id="n40_8" href="#b" x="448"/><use id="n40_9" href="#d" x="500"/><use id="n40_10" href="#d" x="552"/><use id="n40_11" href="#d" x="604"/><use id="n40_12" href="#b" x="656"/><use id="n40_13" href="#b" x="708"/></g>
<g id="row41" transform="translate(0,2141.7)"><use id="n41_1" href="#a" x="84"/><use id="n41_2" href="#a" x="136"/><use id="n41_3" href="#c" x="188"/><use id="n41_4" href="#c" x="240"/><use id="n41_5" href="#c" x="292"/><use id="n41_6" href="#c" x="344"/><use id="n41_7" href="#a" x="396"/><use id="n41_8" href="#a" x="448"/><use id="n41_9" href="#a" x="500"/><use id="n41_10" href="#a" x="552"/><use id="n41_11" href="#a" x="604"/><use id="n41_12" href="#a" x="656"/><use id="n41_13" href="#a" x="708"/></g>
<g id="row42" transform="translate(0,2193.7)"><use id="n42_1" href="#b" x="84"/><use id="n42_2" href="#d" x="136"/><use id="n42_3" href="#b" x="188"/><use id="n42_4" href="#b" x="240"/><use id="n42_5" href="#b" x="292"/><use id="n42_6" href="#b" x="344"/><use id="n42_7" href="#d" x="396"/><use id="n42_8" href="#b" x="448"/><use id="n42_9" href="#b" x="500"/><use id="n42_10" href="#b" x="552"/><use id="n42_11" href="#b" x="604"/><use id="n42_12" href="#b" x="656"/><use id="n42_13" href="#b" x="708"/></g>
<g id="row43" transform="translate(0,2245.7)"><use id="n43_1" href="#a" x="84"/><use id="n43_2" href="#c" x="136"/><use id="n43_3" href="#a" x="188"/><use id="n43_4" href="#c" x="240"/><use id="n43_5" href="#a" x="292"/><use id="n43_6" href="#a" x="344"/><use id="n43_7" href="#c" x="396"/><use id="n43_8" href="#a" x="448"/><use id="n43_9" href="#a" x="500"/><use id="n43_10" href="#a" x="552"/><use id="n43_11" href="#a" x="604"/><use id="n43_12" href="#a" x="656"/><use id="n43_13" href="#a" x="708"/></g>
<g id="row44" transform="translate(0,2297.7)"><use id="n44_1" href="#b" x="84"/><use id="n44_2" href="#d" x="136"/><use id="n44_3" href="#b" x="188"/><use id="n44_4" href="#b" x="240"/><use id="n44_5" href="#d" x="292"/><use id="n44_6" href="#b" x="344"/><use id="n44_7" href="#d" x="396"/><use id="n44_8" href="#b" x="448"/><use id="n44_9" href="#b" x="500"/><use id="n44_10" href="#b" x="552"/><use id="n44_11" href="#b" x="604"/><use id="n44_12" href="#b" x="656"/><use id="n44_13" href="#b" x="708"/></g>
<g id="row45" transform="translate(0,2349.7)"><use id="n45_1" href="#a" x="84"/><use id="n45_2" href="#a" x="136"/><use id="n45_3" href="#c" x="188"/><use id="n45_4" href="#c" x="240"/><use id="n45_5" href="#a" x="292"/><use id="n45_6" href="#a" x="344"/><use id="n45_7" href="#c" x="396"/><use id="n45_8" href="#a" x="448"/><use id="n45_9" href="#a" x="500"/><use id="n45_10" href="#a" x="552"/><use id="n45_11" href="#a" x="604"/><use id="n45_12" href="#a" x="656"/><use id="n45_13" href="#a" x="708"/></g>
<g id="row46" transform="translate(0,2401.7)"><use id="n46_1" href="#b" x="84"/><use id="n46_2" href="#b" x="136"/><use id="n46_3" href="#b" x="188"/><use id="n46_4" href="#b" x="240"/><use id="n46_5" href="#b" x="292"/><use id="n46_6" href="#b" x="344"/><use id="n46_7" href="#d" x="396"/><use id="n46_8" href="#b" x="448"/><use id="n46_9" href="#b" x="500"/><use id="n46_10" href="#d" x="552"/><use id="n46_11" href="#d" x="604"/><use id="n46_12" href="#b" x="656"/><use id="n46_13" href="#b" x="708"/></g>
<g id="row47" transform="translate(0,2453.7)"><use id="n47_1" href="#a" x="84"/><use id="n47_2" href="#a" x="136"/><use id="n47_3" href="#c" x="188"/><use id="n47_4" href="#a" x="240"/><use id="n47_5" href="#c" x="292"/><use id="n47_6" href="#a" x="344"/><use id="n47_7" href="#c" x="396"/><use id="n47_8" href="#a" x="448"/><use id="n47_9" href="#c" x="500"/><use id="n47_10" href="#a" x="552"/><use id="n47_11" href="#a" x="604"/><use id="n47_12" href="#c" x="656"/><use id="n47_13" href="#a" x="708"/></g>
<g id="row48" transform="translate(0,2505.7)"><use id="n48_1" href="#b" x="84"/><use id="n48_2" href="#b" x="136"/><use id="n48_3" href="#b" x="188"/><use id="n48_4" href="#d" x="240"/><use id="n48_5" href="#b" x="292"/><use id="n48_6" href="#b" x="344"/><use id="n48_7" href="#d" x="396"/><use id="n48_8" href="#b" x="448"/><use id="n48_9" href="#b" x="500"/><use id="n48_10" href="#d" x="552"/><use id="n48_11" href="#b" x="604"/><use id="n48_12" href="#d" x="656"/><use id="n48_13" href="#b" x="708"/></g>
<g id="row49" transform="translate(0,2557.7)"><use id="n49_1" href="#a" x="84"/><use id="n49_2" href="#a" x="136"/><use id="n49_3" href="#c" x="188"/><use id="n49_4" href="#c" x="240"/><use id="n49_5" href="#c" x="292"/><use id="n49_6" href="#a" x="344"/><use id="n49_7" href="#c" x="396"/><use id="n49_8" href="#a" x="448"/><use id="n49_9" href="#a" x="500"/><use id="n49_10" href="#a" x="552"/><use id="n49_11" href="#a" x="604"/><use id="n49_12" href="#c" x="656"/><use id="n49_13" href="#a" x="708"/></g>
<g id="row50" transform="translate(0,2609.7)"><use id="n50_1" href="#b" x="84"/><use id="n50_2" href="#b" x="136"/><use id="n50_3" href="#b" x="188"/><use id="n50_4" href="#d" x="240"/><use id="n50_5" href="#b" x="292"/><use id="n50_6" href="#b" x="344"/><use id="n50_7" href="#b" x="396"/><use id="n50_8" href="#d" x="448"/><use id="n50_9" href="#d" x="500"/><use id="n50_10" href="#d" x="552"/><use id="n50_11" href="#d" x="604"/><use id="n50_12" href="#b" x="656"/><use id="n50_13" href="#b" x="708"/></g>
<g id="row51" transform="translate(0,2661.7)"><use id="n51_1" href="#a" x="84"/><use id="n51_2" href="#a" x="136"/><use id="n51_3" href="#c" x="188"/><use id="n51_4" href="#c" x="240"/><use id="n51_5" href="#c" x="292"/><use id="n51_6" href="#a" x="344"/><use id="n51_7" href="#a" x="396"/><use id="n51_8" href="#a" x="448"/><use id="n51_9" href="#a" x="500"/><use id="n51_10" href="#a" x="552"/><use id="n51_11" href="#a" x="604"/><use id="n51_12" href="#a" x="656"/><use id="n51_13" href="#a" x="708"/></g>
<g id="row52" transform="translate(0,2713.7)"><use id="n52_1" href="#b" x="84"/><use id="n52_2" href="#b" x="136"/><use id="n52_3" href="#b" x="188"/><use id="n52_4" href="#d" x="240"/><use id="n52_5" href="#b" x="292"/><use id="n52_6" href="#b" x="344"/><use id="n52_7" href="#b" x="396"/><use id="n52_8" href="#b" x="448"/><use id="n52_9" href="#d" x="500"/><use id="n52_10" href="#b" x="552"/><use id="n52_11" href="#d" x="604"/><use id="n52_12" href="#b" x="656"/><use id="n52_13" href="#b" x="708"/></g>
<g id="row53" transform="translate(0,2765.7)"><use id="n53_1" href="#a" x="84"/><use id="n53_2" href="#a" x="136"/><use id="n53_3" href="#a" x="188"/><use id="n53_4" href="#c" x="240"/><use id="n53_5" href="#a" x="292"/><use id="n53_6" href="#a" x="344"/><use id="n53_7" href="#a" x="396"/><use id="n53_8" href="#a" x="448"/><use id="n53_9" href="#a" x="500"/><use id="n53_10" href="#c" x="552"/><use id="n53_11" href="#a" x="604"/><use id="n53_12" href="#a" x="656"/><use id="n53_13" href="#a" x="708"/></g>
<g id="row54" transform="translate(0,2817.7)"><use id="n54_1" href="#b" x="84"/><use id="n54_2" href="#b" x="136"/><use id="n54_3" href="#b" x="188"/><use id="n54_4" href="#d" x="240"/><use id="n54_5" href="#b" x="292"/><use id="n54_6" href="#b" x="344"/><use id="n54_7" href="#b" x="396"/><use id="n54_8" href="#d" x="448"/><use id="n54_9" href="#b" x="500"/><use id="n54_10" href="#b" x="552"/><use id="n54_11" href="#b" x="604"/><use id="n54_12" href="#d" x="656"/><use id="n54_13" href="#b" x="708"/></g>
<g id="row55" transform="translate(0,2869.7)"><use id="n55_1" href="#a" x="84"/><use id="n55_2" href="#a" x="136"/><use id="n55_3" href="#a" x="188"/><use id="n55_4" href="#c" x="240"/><use id="n55_5" href="#a" x="292"/><use id="n55_6" href="#a" x="344"/><use id="n55_7" href="#a" x="396"/><use id="n55_8" href="#a" x="448"/><use id="n55_9" href="#c" x="500"/><use id="n55_10" href="#a" x="552"/><use id="n55_11" href="#c" x="604"/><use id="n55_12" href="#a" x="656"/><use id="n55_13" href="#a" x="708"/></g>
<g id="row56" transform="translate(0,2921.7)"><use id="n56_1" href="#b" x="84"/><use id="n56_2" href="#d" x="136"/><use id="n56_3" href="#b" x="188"/><use id="n56_4" href="#d" x="240"/><use id="n56_5" href="#b" x="292"/><use id="n56_6" href="#d" x="344"/><use id="n56_7" href="#b" x="396"/><use id="n56_8" href="#b" x="448"/><use id="n56_9" href="#b" x="500"/><use id="n56_10" href="#d" x="552"/><use id="n56_11" href="#b" x="604"/><use id="n56_12" href="#b" x="656"/><use id="n56_13" href="#b" x="708"/></g>
<g id="row57" transform="translate(0,2973.7)"><use id="n57_1" href="#a" x="84"/><use id="n57_2" href="#c" x="136"/><use id="n57_3" href="#c" x="188"/><use id="n57_4" href="#c" x="240"/><use id="n57_5" href="#c" x="292"/><use id="n57_6" href="#c" x="344"/><use id="n57_7" href="#a" x="396"/><use id="n57_8" href="#a" x="448"/><use id="n57_9" href="#a" x="500"/><use id="n57_10" href="#a" x="552"/><use id="n57_11" href="#a" x="604"/><use id="n57_12" href="#a" x="656"/><use id="n57_13" href="#a" x="708"/></g>
<g id="row58" transform="translate(0,3025.7)"><use id="n58_1" href="#b" x="84"/><use id="n58_2" href="#b" x="136"/><use id="n58_3" href="#d" x="188"/><use id="n58_4" href="#d" x="240"/><use id="n58_5" href="#d" x="292"/><use id="n58_6" href="#b" x="344"/><use id="n58_7" href="#b" x="396"/><use id="n58_8" href="#b" x="448"/><use id="n58_9" href="#d" x="500"/><use id="n58_10" href="#b" x="552"/><use id="n58_11" href="#d" x="604"/><use id="n58_12" href="#b" x="656"/><use id="n58_13" href="#b" x="708"/></g>
<g id="row59" transform="translate(0,3077.7)"><use id="n59_1" href="#a" x="84"/><use id="n59_2" href="#a" x="136"/><use id="n59_3" href="#a" x="188"/><use id="n59_4" href="#c" x="240"/><use id="n59_5" href="#a" x="292"/><use id="n59_6" href="#a" x="344"/><use id="n59_7" href="#c" x="396"/><use id="n59_8" href="#a" x="448"/><use id="n59_9" href="#a" x="500"/><use id="n59_10" href="#c" x="552"/><use id="n59_11" href="#a" x="604"/><use id="n59_12" href="#a" x="656"/><use id="n59_13" href="#a" x="708"/></g>
<g id="row60" transform="translate(0,3129.7)"><use id="n60_1" href="#b" x="84"/><use id="n60_2" href="#d" x="136"/><use id="n60_3" href="#b" x="188"/><use id="n60_4" href="#b" x="240"/><use id="n60_5" href="#b" x="292"/><use id="n60_6" href="#d" x="344"/><use id="n60_7" href="#d" x="396"/><use id="n60_8" href="#d" x="448"/><use id="n60_9" href="#b" x="500"/><use id="n60_10" href="#b" x="552"/><use id="n60_11" href="#b" x="604"/><use id="n60_12" href="#d" x="656"/><use id="n60_13" href="#b" x="708"/></g>
<g id="row61" transform="translate(0,3181.7)"><use id="n61_1" href="#a" x="84"/><use id="n61_2" href="#c" x="136"/><use id="n61_3" href="#c" x="188"/><use id="n61_4" href="#a" x="240"/><use id="n61_5" href="#c" x="292"/><use id="n61_6" href="#c" x="344"/><use id="n61_7" href="#a" x="396"/><use id="n61_8" href="#c" x="448"/><use id="n61_9" href="#c" x="500"/><use id="n61_10" href="#a" x="552"/><use id="n61_11" href="#c" x="604"/><use id="n61_12" href="#c" x="656"/><use id="n61_13" href="#a" x="708"/></g>
<g id="row62" transform="translate(0,3233.7)"><use id="n62_1" href="#b" x="84"/><use id="n62_2" href="#b" x="136"/><use id="n62_3" href="#d" x="188"/><use id="n62_4" href="#d" x="240"/><use id="n62_5" href="#d" x="292"/><use id="n62_6" href="#b" x="344"/><use id="n62_7" href="#b" x="396"/><use id="n62_8" href="#b" x="448"/><use id="n62_9" href="#d" x="500"/><use id="n62_10" href="#d" x="552"/><use id="n62_11" href="#d" x="604"/><use id="n62_12" href="#b" x="656"/><use id="n62_13" href="#b" x="708"/></g>
<g id="row63" transform="translate(0,3285.7)"><use id="n63_1" href="#a" x="84"/><use id="n63_2" href="#a" x="136"/><use id="n63_3" href="#a" x="188"/><use id="n63_4" href="#c" x="240"/><use id="n63_5" href="#a" x="292"/><use id="n63_6" href="#a" x="344"/><use id="n63_7" href="#a" x="396"/><use id="n63_8" href="#a" x="448"/><use id="n63_9" href="#a" x="500"/><use id="n63_10" href="#c" x="552"/><use id="n63_11" href="#a" x="604"/><use id="n63_12" href="#a" x="656"/><use id="n63_13" href="#a" x="708"/></g>
<g id="row64" transform="translate(0,3337.7)"><use id="n64_1" href="#b" x="84"/><use id="n64_2" href="#d" x="136"/><use id="n64_3" href="#b" x="188"/><use id="n64_4" href="#b" x="240"/><use id="n64_5" href="#b" x="292"/><use id="n64_6" href="#d" x="344"/><use id="n64_7" href="#b" x="396"/><use id="n64_8" href="#d" x="448"/><use id="n64_9" href="#b" x="500"/><use id="n64_10" href="#b" x="552"/><use id="n64_11" href="#b" x="604"/><use id="n64_12" href="#d" x="656"/><use id="n64_13" href="#b" x="708"/></g>
<g id="row65" transform="translate(0,3389.7)"><use id="n65_1" href="#a" x="84"/><use id="n65_2" href="#a" x="136"/><use id="n65_3" href="#a" x="188"/><use id="n65_4" href="#a" x="240"/><use id="n65_5" href="#a" x="292"/><use id="n65_6" href="#a" x="344"/><use id="n65_7" href="#a" x="396"/><use id="n65_8" href="#a" x="448"/><use id="n65_9" href="#a" x="500"/><use id="n65_10" href="#a" x="552"/><use id="n65_11" href="#a" x="604"/><use id="n65_12" href="#a" x="656"/><use id="n65_13" href="#a" x="708"/></g>
<g id="row66" transform="translate(0,3441.7)"><use id="n66_1" href="#b" x="84"/><use id="n66_2" href="#b" x="136"/><use id="n66_3" href="#b" x="188"/><use id="n66_4" href="#d" x="240"/><use id="n66_5" href="#b" x="292"/><use id="n66_6" href="#d" x="344"/><use id="n66_7" href="#d" x="396"/><use id="n66_8" href="#d" x="448"/><use id="n66_9" href="#b" x="500"/><use id="n66_10" href="#d" x="552"/><use id="n66_11" href="#b" x="604"/><use id="n66_12" href="#b" x="656"/><use id="n66_13" href="#b" x="708"/></g>
<g id="row67" transform="translate(0,3493.7)"><use id="n67_1" href="#a" x="84"/><use id="n67_2" href="#a" x="136"/><use id="n67_3" href="#a" x="188"/><use id="n67_4" href="#a" x="240"/><use id="n67_5" href="#a" x="292"/><use id="n67_6" href="#a" x="344"/><use id="n67_7" href="#a" x="396"/><use id="n67_8" href="#a" x="448"/><use id="n67_9" href="#a" x="500"/><use id="n67_10" href="#a" x="552"/><use id="n67_11" href="#a" x="604"/><use id="n67_12" href="#a" x="656"/><use id="n67_13" href="#a" x="708"/></g>
<g id="row68" transform="translate(0,3545.7)"><use id="n68_1" href="#b" x="84"/><use id="n68_2" href="#b" x="136"/><use id="n68_3" href="#b" x="188"/><use id="n68_4" href="#b" x="240"/><use id="n68_5" href="#d" x="292"/><use id="n68_6" href="#d" x="344"/><use id="n68_7" href="#d" x="396"/><use id="n68_8" href="#d" x="448"/><use id="n68_9" href="#d" x="500"/><use id="n68_10" href="#b" x="552"/><use id="n68_11" href="#b" x="604"/><use id="n68_12" href="#b" x="656"/><use id="n68_13" href="#b" x="708"/></g>
<g id="row69" transform="translate(0,3597.7)"><use id="n69_1" href="#a" x="84"/><use id="n69_2" href="#a" x="136"/><use id="n69_3" href="#a" x="188"/><use id="n69_4" href="#a" x="240"/><use id="n69_5" href="#a" x="292"/><use id="n69_6" href="#a" x="344"/><use id="n69_7" href="#a" x="396"/><use id="n69_8" href="#a" x="448"/><use id="n69_9" href="#a" x="500"/><use id="n69_10" href="#a" x="552"/><use id="n69_11" href="#a" x="604"/><use id="n69_12" href="#a" x="656"/><use id="n69_13" href="#a" x="708"/></g>
<g id="row70" transform="translate(0,3649.7)"><use id="n70_1" href="#b" x="84"/><use id="n70_2" href="#b" x="136"/><use id="n70_3" href="#b" x="188"/><use id="n70_4" href="#b" x="240"/><use id="n70_5" href="#d" x="292"/><use id="n70_6" href="#d" x="344"/><use id="n70_7" href="#d" x="396"/><use id="n70_8" href="#d" x="448"/><use id="n70_9" href="#d" x="500"/><use id="n70_10" href="#b" x="552"/><use id="n70_11" href="#b" x="604"/><use id="n70_12" href="#b" x="656"/><use id="n70_13" href="#b" x="708"/></g>
<g id="row71" transform="translate(0,3701.7)"><use id="n71_1" href="#a" x="84"/><use id="n71_2" href="#a" x="136"/><use id="n71_3" href="#a" x="188"/><use id="n71_4" href="#a" x="240"/><use id="n71_5" href="#a" x="292"/><use id="n71_6" href="#a" x="344"/><use id="n71_7" href="#a" x="396"/><use id="n71_8" href="#a" x="448"/><use id="n71_9" href="#a" x="500"/><use id="n71_10" href="#a" x="552"/><use id="n71_11" href="#a" x="604"/><use id="n71_12" href="#a" x="656"/><use id="n71_13" href="#a" x="708"/></g>
<g id="row72" transform="translate(0,3753.7)"><use id="n72_1" href="#b" x="84"/><use id="n72_2" href="#b" x="136"/><use id="n72_3" href="#b" x="188"/><use id="n72_4" href="#b" x="240"/><use id="n72_5" href="#b" x="292"/><use id="n72_6" href="#d" x="344"/><use id="n72_7" href="#d" x="396"/><use id="n72_8" href="#d" x="448"/><use id="n72_9" href="#b" x="500"/><use id="n72_10" href="#b" x="552"/><use id="n72_11" href="#b" x="604"/><use id="n72_12" href="#b" x="656"/><use id="n72_13" href="#b" x="708"/></g>
<g id="row73" transform="translate(0,3805.7)"><use id="n73_1" href="#a" x="84"/><use id="n73_2" href="#a" x="136"/><use id="n73_3" href="#a" x="188"/><use id="n73_4" href="#a" x="240"/><use id="n73_5" href="#a" x="292"/><use id="n73_6" href="#a" x="344"/><use id="n73_7" href="#a" x="396"/><use id="n73_8" href="#a" x="448"/><use id="n73_9" href="#a" x="500"/><use id="n73_10" href="#a" x="552"/><use id="n73_11" href="#a" x="604"/><use id="n73_12" href="#a" x="656"/><use id="n73_13" href="#a" x="708"/></g>
<g id="row74" transform="translate(0,3857.7)"><use id="n74_1" href="#b" x="84"/><use id="n74_2" href="#b" x="136"/><use id="n74_3" href="#b" x="188"/><use id="n74_4" href="#b" x="240"/><use id="n74_5" href="#b" x="292"/><use id="n74_6" href="#b" x="344"/><use id="n74_7" href="#b" x="396"/><use id="n74_8" href="#b" x="448"/><use id="n74_9" href="#b" x="500"/><use id="n74_10" href="#b" x="552"/><use id="n74_11" href="#b" x="604"/><use id="n74_12" href="#b" x="656"/><use id="n74_13" href="#b" x="708"/></g>
<g id="row75" transform="translate(0,3909.7)"><use id="n75_1" href="#a" x="84"/><use id="n75_2" href="#a" x="136"/><use id="n75_3" href="#a" x="188"/><use id="n75_4" href="#a" x="240"/><use id="n75_5" href="#a" x="292"/><use id="n75_6" href="#a" x="344"/><use id="n75_7" href="#a" x="396"/><use id="n75_8" href="#a" x="448"/><use id="n75_9" href="#a" x="500"/><use id="n75_10" href="#a" x="552"/><use id="n75_11" href="#a" x="604"/><use id="n75_12" href="#a" x="656"/><use id="n75_13" href="#a" x="708"/></g>
</g>
<text class="wm" x="396" y="2017">BRACELETBOOK.COM</text>
</svg>
